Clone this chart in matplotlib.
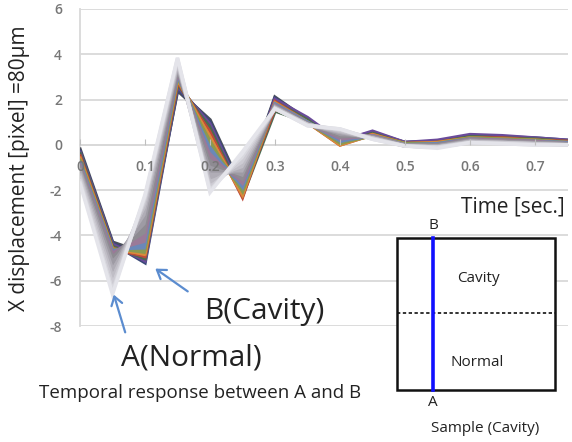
import matplotlib
matplotlib.use("Agg")
import matplotlib.pyplot as plt
from matplotlib.patches import Rectangle, FancyArrowPatch
from matplotlib.lines import Line2D

# ---------------- data ----------------
time = [0, 0.05, 0.1, 0.15, 0.2, 0.25, 0.3, 0.35, 0.4, 0.45, 0.5, 0.55, 0.6, 0.65, 0.7, 0.75]

# series ordered from B (cavity, dark) to A (normal, light)
s01 = [-0.2, -4.3, -4.8, 2.4, 1.1, -2.0, 2.1, 1.1, 0.2, 0.55, 0.1, 0.15, 0.4, 0.35, 0.25, 0.15]
s02 = [-0.3, -4.35, -5.2, 2.5, 1.0, -2.1, 2.05, 1.1, 0.1, 0.5, 0.1, 0.15, 0.4, 0.35, 0.3, 0.2]
s03 = [-0.35, -4.4, -5.1, 2.6, 0.9, -2.2, 2.0, 1.2, 0.15, 0.6, 0.1, 0.2, 0.45, 0.4, 0.3, 0.2]
s04 = [-0.4, -4.5, -5.0, 2.7, 0.7, -2.25, 1.5, 1.0, 0.05, 0.5, 0.05, 0.1, 0.35, 0.3, 0.25, 0.15]
s05 = [-0.5, -4.6, -4.9, 2.8, 0.5, -2.3, 1.9, 1.0, 0.0, 0.45, 0.05, 0.1, 0.3, 0.3, 0.2, 0.15]
s06 = [-0.6, -4.6, -4.8, 2.9, 0.3, -2.2, 1.85, 1.0, 0.0, 0.45, 0.05, 0.1, 0.3, 0.25, 0.2, 0.1]
s07 = [-0.7, -4.65, -4.6, 3.0, 0.0, -2.0, 1.8, 1.0, 0.1, 0.4, 0.05, 0.05, 0.3, 0.25, 0.2, 0.1]
s08 = [-0.8, -4.7, -4.3, 3.1, -0.3, -1.8, 1.8, 1.0, 0.2, 0.4, 0.0, 0.05, 0.25, 0.2, 0.15, 0.1]
s09 = [-0.9, -4.8, -3.9, 3.2, -0.6, -1.6, 1.75, 0.95, 0.3, 0.4, 0.0, 0.0, 0.25, 0.2, 0.15, 0.05]
s10 = [-1.0, -5.0, -3.5, 3.3, -0.9, -1.4, 1.7, 0.95, 0.4, 0.35, 0.0, 0.0, 0.2, 0.15, 0.1, 0.05]
s11 = [-1.1, -5.3, -3.1, 3.4, -1.2, -1.2, 1.7, 0.9, 0.5, 0.35, 0.0, -0.05, 0.2, 0.15, 0.1, 0.05]
s12 = [-1.2, -5.6, -2.8, 3.5, -1.5, -1.0, 1.65, 0.9, 0.55, 0.3, -0.05, -0.05, 0.15, 0.1, 0.05, 0.0]
s13 = [-1.35, -5.9, -2.6, 3.6, -1.7, -0.8, 1.65, 0.9, 0.6, 0.3, -0.05, -0.1, 0.15, 0.1, 0.05, 0.0]
s14 = [-1.45, -6.2, -2.4, 3.7, -1.9, -0.6, 1.6, 0.9, 0.65, 0.3, -0.05, -0.1, 0.1, 0.1, 0.05, 0.0]
s15 = [-1.6, -6.45, -2.3, 3.8, -2.0, -0.45, 1.6, 0.85, 0.7, 0.25, -0.05, -0.1, 0.1, 0.05, 0.0, 0.0]
s16 = [-1.7, -6.6, -2.2, 3.85, -2.1, -0.3, 1.6, 0.85, 0.7, 0.25, -0.05, -0.15, 0.1, 0.05, 0.0, 0.0]

series = [s01, s02, s03, s04, s05, s06, s07, s08, s09, s10, s11, s12, s13, s14, s15, s16]
series_colors = ["#4a4e5a", "#3b4a78", "#6a4a9a", "#4d6b52", "#c04a3a", "#d98a3a",
                 "#8a9a50", "#6a88b8", "#9a7a98", "#8e8b92", "#9e9ba4", "#b0adb6",
                 "#c0bec6", "#cdcbd3", "#d9d9df", "#e4e4ea"]

xticks = [0, 0.1, 0.2, 0.3, 0.4, 0.5, 0.6, 0.7]
xtick_labels = ["0", "0.1", "0.2", "0.3", "0.4", "0.5", "0.6", "0.7"]
yticks = [-8, -6, -4, -2, 0, 2, 4, 6]
ytick_labels = ["-8", "-6", "-4", "-2", "0", "2", "4", "6"]

# ---------------- figure ----------------
W, H = 572, 442
plt.rcParams["font.family"] = ["Open Sans", "DejaVu Sans"]
fig = plt.figure(figsize=(W / 100, H / 100), dpi=100)
fig.patch.set_facecolor("white")

def fx(px):
    return px / W

def fy(py):
    return 1 - py / H

ax = fig.add_axes([fx(80), fy(326), (567.5 - 80) / W, (326 - 9) / H])
ax.set_xlim(0, 0.75)
ax.set_ylim(-8, 6)

grid_c = "#d9d9d9"
for yv in yticks:
    ax.axhline(yv, color=grid_c, lw=1.3, zorder=0.5)

for sp in ["top", "right"]:
    ax.spines[sp].set_visible(False)
ax.spines["left"].set_color(grid_c)
ax.spines["left"].set_linewidth(1.3)
ax.spines["left"].set_zorder(0.6)
ax.spines["bottom"].set_position(("data", 0))
ax.spines["bottom"].set_color(grid_c)
ax.spines["bottom"].set_linewidth(1.3)
ax.spines["bottom"].set_zorder(0.6)

ax.set_xticks(xticks)
ax.set_xticklabels(xtick_labels, fontweight="semibold")
ax.set_yticks(yticks)
ax.set_yticklabels(ytick_labels, fontweight="semibold")
ax.tick_params(axis="x", direction="in", length=4, color="#bfbfbf", pad=11,
               labelsize=10, labelcolor="#777777")
ax.tick_params(axis="y", length=0, pad=13, labelsize=10, labelcolor="#777777")
ax.xaxis.set_zorder(3)
ax.yaxis.set_zorder(0.6)

# the fan of series, dark (B) first, light (A) last on top
for i, (vals, col) in enumerate(zip(series, series_colors)):
    if i > 0:
        ax.fill_between(time, series[i - 1], vals, color=col, lw=0, zorder=2 + i * 0.01)
    ax.plot(time, vals, color=col, lw=2.6, zorder=2 + i * 0.01 + 0.005,
            solid_joinstyle="miter")

# ---------------- texts ----------------
fig.text(fx(20), fy(168), "X displacement [pixel] =80μm", rotation=90,
         ha="center", va="center", fontsize=15, color="#222222")
fig.text(fx(565), fy(207), "Time [sec.]", ha="right", va="center",
         fontsize=15, color="#222222")
fig.text(fx(264), fy(312), "B(Cavity)", ha="center", va="center",
         fontsize=21.5, color="#222222")
fig.text(fx(191), fy(358), "A(Normal)", ha="center", va="center",
         fontsize=21.5, color="#222222")
fig.text(fx(200), fy(393), "Temporal response between A and B", ha="center",
         va="center", fontsize=13.5, color="#222222")

arrow_c = "#5b8ccf"
for tail, head in [((126, 335), (113, 292)), ((190, 293), (153, 267))]:
    arr = FancyArrowPatch((fx(tail[0]), fy(tail[1])), (fx(head[0]), fy(head[1])),
                          transform=fig.transFigure, arrowstyle="->,head_length=6,head_width=4",
                          color=arrow_c, lw=1.6, mutation_scale=1)
    fig.patches.append(arr)

# ---------------- inset sample diagram ----------------
box = Rectangle((fx(397), fy(390)), fx(555) - fx(397), fy(237.5) - fy(390),
                transform=fig.transFigure, facecolor="white", edgecolor="#111111",
                lw=1.8, zorder=5)
fig.patches.append(box)
fig.lines.append(Line2D([fx(397), fx(555)], [fy(313), fy(313)], transform=fig.transFigure,
                        color="#111111", lw=1.2, ls=(0, (2, 1.5)), zorder=6))
fig.lines.append(Line2D([fx(433), fx(433)], [fy(238), fy(389.5)], transform=fig.transFigure,
                        color="#1010ff", lw=2.6, zorder=7))
txt_kw = dict(ha="center", va="center", fontsize=11, color="#222222", zorder=8)
fig.text(fx(433), fy(226), "B", **txt_kw)
fig.text(fx(433), fy(403), "A", **txt_kw)
fig.text(fx(478), fy(279), "Cavity", **txt_kw)
fig.text(fx(477), fy(362), "Normal", **txt_kw)
fig.text(fx(485), fy(428), "Sample (Cavity)", **txt_kw)

fig.savefig("out.png", dpi=100)
